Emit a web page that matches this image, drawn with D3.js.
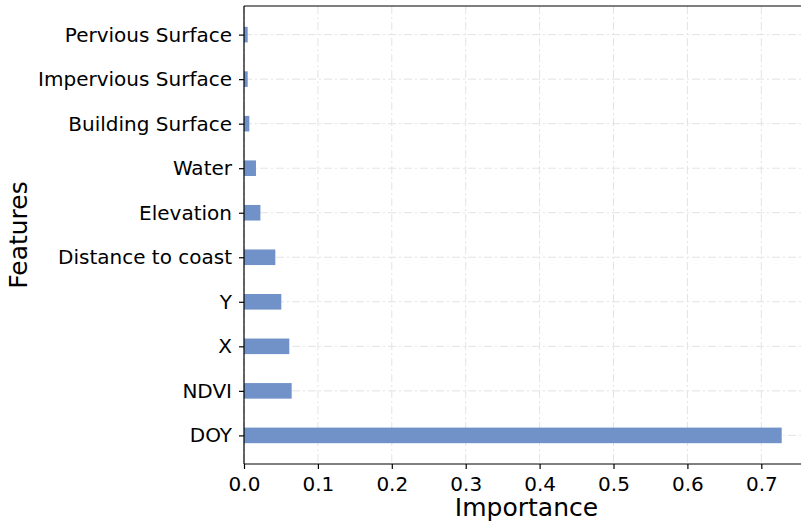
<!DOCTYPE html>
<html>
<head>
<meta charset="utf-8">
<script src="https://cdn.jsdelivr.net/npm/d3@7"></script>
<style>
  body { margin: 0; background: #fff; }
  svg text { font-family: "DejaVu Sans", sans-serif; fill: #000; }
</style>
</head>
<body>
<script>
var features = ["DOY", "NDVI", "X", "Y", "Distance to coast", "Elevation",
                "Water", "Building Surface", "Impervious Surface", "Pervious Surface"];
var importance = [0.7276, 0.0645, 0.0613, 0.0505, 0.0424, 0.0222,
                  0.0162, 0.0072, 0.0050, 0.0050];
var xTicks = [0, 0.1, 0.2, 0.3, 0.4, 0.5, 0.6, 0.7];

var dim = { width: 801, height: 524, left: 244, right: 801, top: 6, bottom: 464 };
var barHeight = 0.35;

var x = d3.scaleLinear().domain([0, 0.7537]).range([dim.left, dim.right]);
var pad = (features.length - 1 + barHeight) * 0.05;
var y = d3.scaleLinear()
    .domain([-barHeight / 2 - pad, features.length - 1 + barHeight / 2 + pad])
    .range([dim.bottom, dim.top]);

var svg = d3.select("body").append("svg")
    .attr("width", dim.width)
    .attr("height", dim.height);

// grid
var grid = svg.append("g").attr("class", "grid")
    .attr("stroke", "#e3e3e3")
    .attr("stroke-width", 1)
    .attr("stroke-dasharray", "8,3,2,3");

grid.selectAll("line.v").data(xTicks).enter().append("line")
    .attr("class", "v")
    .attr("x1", function(d) { return x(d); })
    .attr("x2", function(d) { return x(d); })
    .attr("y1", dim.top)
    .attr("y2", dim.bottom);

grid.selectAll("line.h").data(features).enter().append("line")
    .attr("class", "h")
    .attr("x1", dim.left)
    .attr("x2", dim.right)
    .attr("y1", function(d, i) { return y(i); })
    .attr("y2", function(d, i) { return y(i); });

// bars
svg.append("g").attr("class", "bars")
    .selectAll("rect").data(importance).enter().append("rect")
    .attr("x", x(0))
    .attr("y", function(d, i) { return y(i + barHeight / 2); })
    .attr("width", function(d) { return x(d) - x(0); })
    .attr("height", y(0) - y(barHeight))
    .attr("fill", "#7192c8");

// axes
var xAxis = d3.axisBottom(x)
    .tickValues(xTicks)
    .tickFormat(d3.format(".1f"))
    .tickSize(5)
    .tickPadding(8);

var yAxis = d3.axisLeft(y)
    .tickValues(d3.range(features.length))
    .tickFormat(function(i) { return features[i]; })
    .tickSize(5)
    .tickPadding(7);

var gx = svg.append("g")
    .attr("transform", "translate(0," + dim.bottom + ")")
    .call(xAxis);

var gy = svg.append("g")
    .attr("transform", "translate(" + dim.left + ",0)")
    .call(yAxis);

[gx, gy].forEach(function(g) {
    g.select(".domain").remove();
    g.selectAll(".tick line").attr("stroke", "#000").attr("stroke-width", 1.2);
    g.selectAll(".tick text").style("font-size", "20px").attr("fill", "#000");
});

// spines
svg.append("line")
    .attr("x1", dim.left).attr("x2", dim.right)
    .attr("y1", dim.bottom).attr("y2", dim.bottom)
    .attr("stroke", "#000").attr("stroke-width", 1.2);
svg.append("line")
    .attr("x1", dim.left).attr("x2", dim.right)
    .attr("y1", dim.top).attr("y2", dim.top)
    .attr("stroke", "#000").attr("stroke-width", 1.2);
svg.append("line")
    .attr("x1", dim.left).attr("x2", dim.left)
    .attr("y1", dim.top).attr("y2", dim.bottom)
    .attr("stroke", "#000").attr("stroke-width", 1.2);

// axis titles
svg.append("text")
    .attr("x", (dim.left + 801 + 8) / 2 + 0)
    .attr("y", 516)
    .attr("text-anchor", "middle")
    .style("font-size", "25px")
    .text("Importance");

svg.append("text")
    .attr("transform", "translate(27," + ((dim.top + dim.bottom) / 2) + ") rotate(-90)")
    .attr("text-anchor", "middle")
    .style("font-size", "25px")
    .text("Features");
</script>
</body>
</html>
